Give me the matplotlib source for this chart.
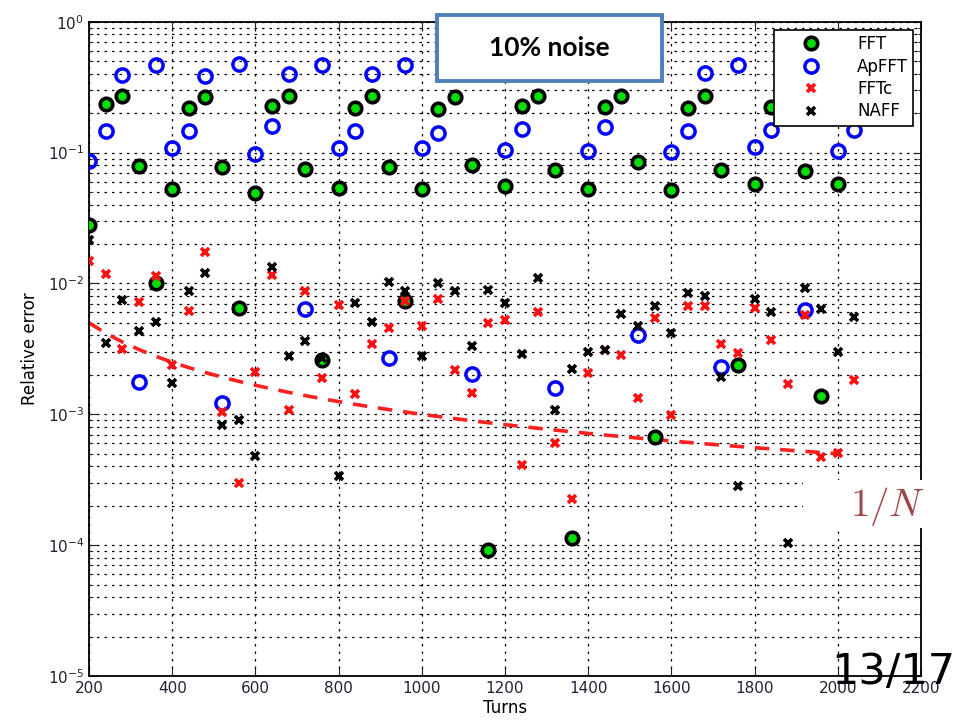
import matplotlib
matplotlib.use('Agg')
import matplotlib.pyplot as plt
from matplotlib.patches import Rectangle
from matplotlib.ticker import LogLocator, NullFormatter
import numpy as np

# turns at which every method was evaluated
turns = np.arange(200, 2041, 40)

fft = [0.028, 0.235, 0.272, 0.079, 0.0100, 0.053, 0.220, 0.266, 0.077, 0.0065,
       0.049, 0.228, 0.272, 0.075, 0.0026, 0.054, 0.220, 0.272, 0.078, 0.0074,
       0.053, 0.215, 0.268, 0.081, 9.2e-5, 0.056, 0.225, 0.271, 0.074, 1.13e-4,
       0.053, 0.222, 0.272, 0.084, 6.7e-4, 0.052, 0.218, 0.271, 0.074, 0.0024,
       0.058, 0.222, 0.270, 0.072, 0.00137, 0.0575, 0.22]
apfft = [0.086, 0.145, 0.392, 0.00176, 0.467, 0.109, 0.145, 0.385, 0.00123, 0.475,
         0.098, 0.160, 0.399, 0.0064, 0.467, 0.108, 0.147, 0.399, 0.00268, 0.467,
         0.108, 0.142, 0.43, 0.00204, 0.467, 0.105, 0.151, 0.43, 0.00158, 0.467,
         0.1035, 0.158, 0.43, 0.0040, 0.467, 0.1005, 0.145, 0.404, 0.00229, 0.467,
         0.111, 0.149, 0.40, 0.0063, 0.467, 0.1035, 0.149]
fftc = [0.0149, 0.0118, 0.00316, 0.0072, 0.0113, 0.0024, 0.0062, 0.0173, 0.00104, 0.0003,
        0.00212, 0.0115, 0.00108, 0.0088, 0.00191, 0.0068, 0.00143, 0.00345, 0.0046, 0.0074,
        0.0047, 0.0076, 0.00218, 0.00145, 0.0050, 0.0053, 0.00041, 0.0060, 0.0006, 0.000226,
        0.00206, 0.0031, 0.00284, 0.00134, 0.0054, 0.00098, 0.0067, 0.0067, 0.00343, 0.00296,
        0.0065, 0.0037, 0.00171, 0.0057, 0.00047, 0.00051, 0.00183]
naff = [0.0215, 0.0035, 0.0075, 0.0043, 0.0051, 0.00173, 0.0087, 0.0120, 0.00083, 0.0009,
        0.00048, 0.0133, 0.0028, 0.0036, 0.0027, 0.00034, 0.0071, 0.0051, 0.0103, 0.0088,
        0.0028, 0.0100, 0.0088, 0.0033, 0.0089, 0.0071, 0.0029, 0.0110, 0.00108, 0.0022,
        0.0030, 0.0031, 0.0058, 0.0047, 0.0067, 0.0042, 0.0085, 0.0080, 0.00194, 0.000284,
        0.0076, 0.0061, 0.000103, 0.0092, 0.0064, 0.0030, 0.0055]

# reference 1/N curve
turns_ref = np.arange(200, 2001, 40)
ref = 1.0 / turns_ref

fig = plt.figure(figsize=(9.55, 7.26), dpi=100)
ax = fig.add_axes([89/955, 1 - 676/726, (921 - 89)/955, (676 - 21.7)/726])

ax.plot(turns, fft, 'o', ms=9, mfc='#00dd00', mec='black', mew=2.6, label='FFT', zorder=3)
ax.plot(turns, apfft, 'o', ms=9.5, mfc='none', mec='#0000ff', mew=2.5, label='ApFFT', zorder=3)
ax.plot(turns, fftc, 'x', ms=6, mec='#ff1010', mew=2.6, label='FFTc', zorder=4)
ax.plot(turns, naff, 'x', ms=6, mec='black', mew=2.6, label='NAFF', zorder=4)
ax.plot(turns_ref, ref, '--', color='#ff2020', lw=2.6, dashes=(4, 3), zorder=2)

ax.set_yscale('log')
ax.set_xlim(200, 2200)
ax.set_ylim(1e-5, 1)
ax.set_xticks(np.arange(200, 2201, 200))
ax.yaxis.set_major_locator(LogLocator(base=10, numticks=10))
ax.yaxis.set_minor_locator(LogLocator(base=10, subs=np.arange(2, 10), numticks=50))
ax.yaxis.set_minor_formatter(NullFormatter())

ax.grid(True, which='major', ls=(0, (2, 4)), color='black', lw=0.9)
ax.grid(True, which='minor', axis='y', ls=(0, (2, 4)), color='black', lw=0.9)
ax.tick_params(which='both', direction='in', top=True, right=True, labelsize=11,
               colors='#222233')
ax.tick_params(which='major', length=6)
ax.tick_params(which='minor', length=3)
for s in ax.spines.values():
    s.set_linewidth(1.3)

ax.set_xlabel('Turns', fontsize=12, labelpad=2)
ax.set_ylabel('Relative error', fontsize=12, labelpad=6)

leg = ax.legend(loc='upper right', bbox_to_anchor=(913/955, 1 - 30/726),
                bbox_transform=fig.transFigure, fontsize=12, frameon=True,
                fancybox=False, framealpha=1, edgecolor='black', borderaxespad=0,
                borderpad=0.3, labelspacing=0.27, handlelength=3.9, handletextpad=0.8)
leg.get_frame().set_linewidth(1.2)
leg.set_zorder(10)

# "10% noise" box
fig.add_artist(Rectangle((437/955, 1 - 81/726), 225/955, 66/726,
                         transform=fig.transFigure, fc='white', ec='#4f7fbb',
                         lw=2.8, zorder=20))
fig.text(549/955, 1 - 48/726, '10% noise', ha='center', va='center',
         fontsize=19, fontweight='bold', family='Lato', zorder=21)

# 1/N label patch
fig.add_artist(Rectangle((803/955, 1 - 528/726), 152/955, 48/726,
                         transform=fig.transFigure, fc='white', ec='none', zorder=20))
fig.text(888/955, 1 - 506/726, r'$1/N$', ha='center', va='center',
         fontsize=28, color='#a04848', zorder=21,
         math_fontfamily='cm')

# slide number
fig.text(893/955, 1 - 672/726, '13/17', ha='center', va='center',
         fontsize=31, color='black', zorder=21)

fig.savefig('out.png', dpi=100)
